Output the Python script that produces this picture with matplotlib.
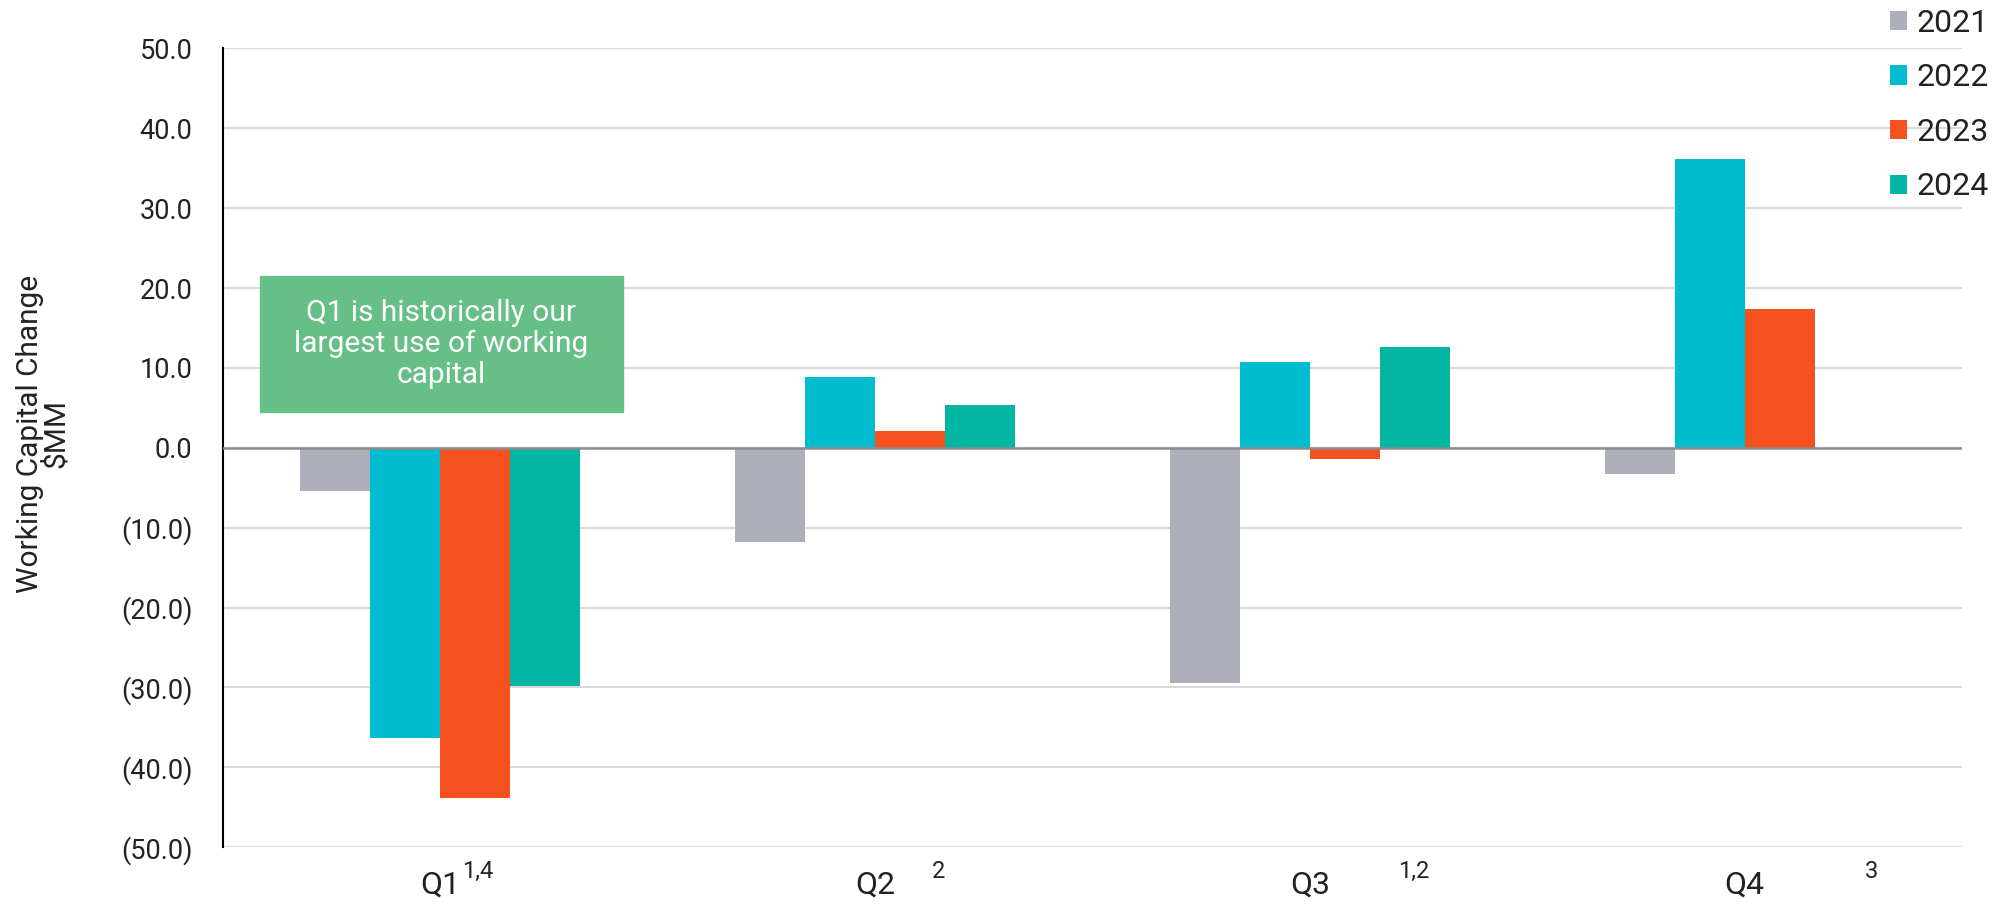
import numpy as np
import matplotlib.pyplot as plt
from matplotlib.patches import Rectangle

plt.rcParams['font.family'] = ['Roboto', 'DejaVu Sans']
plt.rcParams['text.color'] = '#222222'

quarters = ['Q1', 'Q2', 'Q3', 'Q4']
footnotes = ['1,4', '2', '1,2', '3']
footnote_x = [0.585, 1.645, 2.738, 3.792]
years = ['2021', '2022', '2023', '2024']
values = {
    '2021': [-5.4, -11.8, -29.4, -3.3],
    '2022': [-36.4, 8.9, 10.7, 36.1],
    '2023': [-43.9, 2.1, -1.4, 17.4],
    '2024': [-29.8, 5.3, 12.6, np.nan],
}
colors = ['#ADB0BA', '#00BCD0', '#F5511E', '#03B5A3']
yticks = [50, 40, 30, 20, 10, 0, -10, -20, -30, -40, -50]
note = 'Q1 is historically our\nlargest use of working\ncapital'

fig = plt.figure(figsize=(20, 9.06), dpi=100)
ax = fig.add_axes([0.1115, 0.065, 0.8695, 0.8815])

x = np.arange(len(quarters)) + 0.5
w = 0.161
for i, yr in enumerate(years):
    ax.bar(x + (i - 1.5) * w, values[yr], w, color=colors[i], label=yr, zorder=3)

ax.set_xlim(0, 4)
ax.set_ylim(-50, 50)
ax.set_yticks(yticks)
ax.set_yticklabels([f'{v:.1f}' if v >= 0 else f'({-v:.1f})' for v in yticks])
ax.yaxis.grid(True, color='#D9D9D9', lw=1.5, zorder=0)
ax.axhline(0, color='#8C8C8C', lw=1.8, zorder=4)
for s in ['top', 'right', 'bottom']:
    ax.spines[s].set_visible(False)
ax.spines['left'].set_linewidth(1.5)
ax.tick_params(axis='y', length=0, pad=22, labelsize=19.5, labelcolor='#222222')
ax.tick_params(axis='x', length=0, pad=17, labelsize=23, labelcolor='#222222')
ax.set_xticks(x)
ax.set_xticklabels(quarters)

for fx, fn in zip(footnote_x, footnotes):
    ax.text(fx, -53.0, fn, ha='center', va='center', fontsize=17)

fig.text(0.0215, 0.5215, 'Working Capital Change\n$MM', rotation=90, ha='center', va='center',
         fontsize=21.5, color='#222222', linespacing=0.9)

ax.add_patch(Rectangle((0.085, 4.5), 0.834, 17.0, color='#66BF87', zorder=5))
ax.text(0.502, 13.0, note, ha='center', va='center', color='white', fontsize=21.5,
        linespacing=1.15, zorder=6)

leg = ax.legend(loc='upper right', bbox_to_anchor=(1.009, 1.022), bbox_transform=fig.transFigure,
                frameon=False, fontsize=23, handlelength=0.55, handleheight=0.55,
                handletextpad=0.3, labelspacing=0.8)

fig.savefig('out.png', dpi=100)
